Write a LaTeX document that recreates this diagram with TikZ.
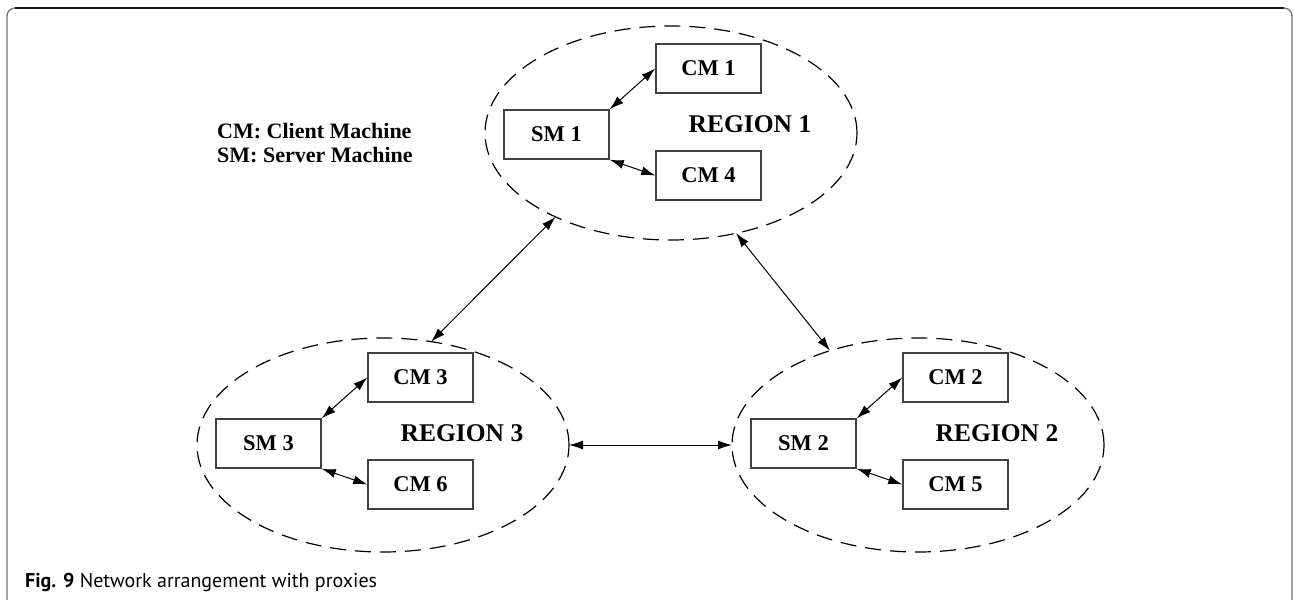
\documentclass[tikz,border=0pt]{standalone}
\usepackage{fontspec}
\setmainfont{Liberation Serif}
\newfontfamily\capfont{PT Sans}
\usetikzlibrary{shapes.geometric,arrows.meta}
\begin{document}
\begin{tikzpicture}[x=1pt,y=-1pt,
  region/.style={ellipse, draw, line width=1.2pt, dash pattern=on 16pt off 9pt,
    minimum width=372pt, minimum height=214pt, inner sep=0pt, outer sep=0pt},
  mach/.style={rectangle, draw=black!75, line width=1.5pt, minimum width=105pt,
    minimum height=49pt, inner sep=0pt, font=\fontsize{22.5}{27}\bfseries\selectfont},
  rlabel/.style={font=\fontsize{25.5}{30}\bfseries\selectfont, inner sep=0pt},
  legend/.style={font=\fontsize{22}{26}\bfseries\selectfont, inner sep=0pt, anchor=base west},
  link/.style={line width=1pt, {Latex[length=14pt,width=9pt]}-{Latex[length=14pt,width=9pt]}}
]
\useasboundingbox (0,0) rectangle (1294,600);
% frame
\draw[black!55, line width=1.3pt, rounded corners=8pt] (7,600) -- (7,8) -- (1292,8) -- (1292,600);
\draw[black!90, line width=1.3pt] (15,8) -- (1284,8);

% regions
\node[region] (r1) at (671,133) {};
\node[region] (r3) at (383,445) {};
\node[region] (r2) at (918,445) {};

% region 1
\node[mach] (sm1) at (556.5,134.5) {SM 1};
\node[mach] (cm1) at (708.5,68.5) {CM 1};
\node[mach] (cm4) at (708.5,175.5) {CM 4};
\node[rlabel] (l1) at (750,124) {REGION 1};

% region 3
\node[mach] (sm3) at (268.5,443.5) {SM 3};
\node[mach] (cm3) at (420.5,377.5) {CM 3};
\node[mach] (cm6) at (420.5,484.5) {CM 6};
\node[rlabel] (l3) at (462,433) {REGION 3};

% region 2
\node[mach] (sm2) at (803.5,443.5) {SM 2};
\node[mach] (cm2) at (955.5,377.5) {CM 2};
\node[mach] (cm5) at (955.5,484.5) {CM 5};
\node[rlabel] (l2) at (997,433) {REGION 2};

% internal links
\draw[link] (sm1.north east) -- (cm1.west);
\draw[link] (sm1.south east) -- (cm4.west);
\draw[link] (sm3.north east) -- (cm3.west);
\draw[link] (sm3.south east) -- (cm6.west);
\draw[link] (sm2.north east) -- (cm2.west);
\draw[link] (sm2.south east) -- (cm5.west);

% inter-region links
\draw[link] (r1.216) -- (r3.65);
\draw[link] (r1.303) -- (r2.133);
\draw[link] (r3.east) -- (r2.west);

% legend
\node[legend] (lcm) at (217,138) {CM: Client Machine};
\node[legend] (lsm) at (217,162) {SM: Server Machine};

% caption
\node[anchor=base west, inner sep=0pt, font=\fontsize{20}{24}\capfont\selectfont] (cap) at (25,587)
  {\textbf{Fig. 9} Network arrangement with proxies};
\end{tikzpicture}
\end{document}
